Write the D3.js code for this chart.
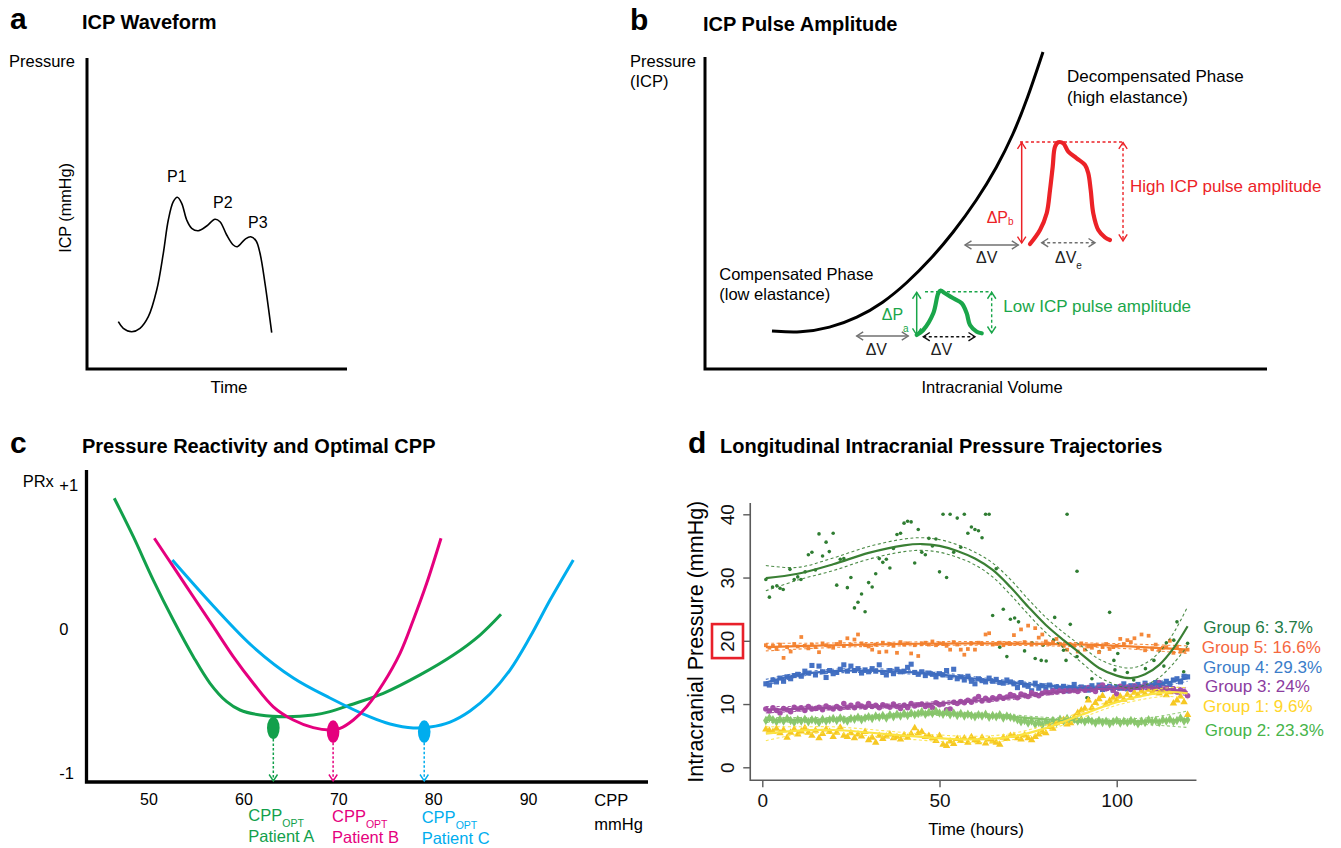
<!DOCTYPE html>
<html><head><meta charset="utf-8">
<script src="https://cdn.jsdelivr.net/npm/d3@7/dist/d3.min.js"></script>
<style>
html,body{margin:0;padding:0;background:#fff;}
svg{display:block;}
text{font-family:"Liberation Sans",Arial,Helvetica,sans-serif;}
</style></head><body>
<svg id="fig" width="1341" height="848"></svg>
<script>
// ================= DATA =================
// Panel a: ICP waveform (schematic units: time 0-100, pressure 0-100)
const waveTime = [12.04,13.96,17.19,20.38,23.58,26.81,29.35,31.27,33.19,34.73,36.42,38.35,40.27,42.81,46.04,49.23,51.15,53.73,56.27,57.81,60.77,62.96,65.00,66.54,68.46,71.04];
const waveICP  = [15.21,13.09,11.99,13.09,16.82,25.40,37.20,47.91,53.79,55.21,53.28,47.91,45.24,44.47,45.98,48.14,47.36,43.09,39.87,39.32,41.70,42.54,41.25,37.20,27.56,11.67];
const peakLabels = ["P1","P2","P3"];
const peakTime = [30.77,48.46,61.92];
const peakICP  = [60.13,51.77,45.34];

// Panel b: pressure-volume curve (schematic units 0-100)
const pvVolume   = [11.92,16.90,22.24,27.05,31.67,35.94,40.04,44.13,48.40,51.96,54.80,57.30,60.14];
const pvPressure = [12.18,11.54,13.14,16.35,21.15,27.56,34.94,43.59,54.17,64.74,75.00,86.22,101.6];
const highPulseV = [57.83,59.61,60.80,61.39,61.87,62.28,62.86,63.75,64.64,66.14,67.62,68.20,68.63,69.09,69.98,71.17,72.06];
const highPulseP = [40.06,44.55,49.90,57.37,64.84,71.25,72.66,72.34,69.65,67.53,65.38,62.72,57.37,49.90,44.55,42.21,41.35];
const lowPulseV  = [37.67,38.84,40.62,41.51,41.94,42.70,44.18,45.68,46.57,47.15,48.35,49.24];
const lowPulseP  = [10.90,12.50,17.85,24.26,25.10,24.26,22.66,21.06,17.85,14.10,11.96,11.44];

// Panel c: PRx vs CPP curves
const cppTicks = [50,60,70,80,90];
const prxTicks = [-1,0,1];
const prxTickLabels = ["-1","0","+1"];
const patients = ["Patient A","Patient B","Patient C"];
const cppOpt   = [63.1,69.4,79.0];
const prxOpt   = [-0.6875,-0.713,-0.713];
const curveA_cpp = [46.34,48.35,50.45,52.56,54.67,56.43,58.19,59.59,61.70,64.51,67.31,69.07,71.18,74.69,78.56,82.07,84.88,87.09];
const curveA_prx = [0.908,0.641,0.340,0.0625,-0.192,-0.377,-0.505,-0.5625,-0.597,-0.609,-0.597,-0.574,-0.528,-0.447,-0.319,-0.181,-0.042,0.102];
const curveB_cpp = [50.56,52.56,54.67,56.78,58.88,60.99,63.10,65.21,67.31,69.07,70.13,71.53,72.94,74.69,76.45,77.85,79.26,80.77];
const curveB_prx = [0.630,0.433,0.224,0.016,-0.192,-0.377,-0.540,-0.632,-0.685,-0.701,-0.690,-0.632,-0.540,-0.377,-0.169,0.0625,0.317,0.630];
const curveC_cpp = [52.46,56.78,60.99,65.21,69.07,73.29,75.40,77.85,79.61,81.72,83.83,85.93,88.04,90.15,92.26,93.66,94.71];
const curveC_prx = [0.479,0.160,-0.125,-0.340,-0.479,-0.611,-0.660,-0.6875,-0.681,-0.646,-0.569,-0.451,-0.285,-0.056,0.201,0.361,0.479];

// Panel d: ICP trajectories
const timeTicks = [0,50,100];
const icpTicks = [0,10,20,30,40];
const legendLabels = ["Group 6: 3.7%","Group 5: 16.6%","Group 4: 29.3%","Group 3: 24%","Group 1: 9.6%","Group 2: 23.3%"];
// Group 6 (sparse scatter) : [hour, ICP]
const g6Points = [[1,29.7],[2,26.9],[2.9,28.5],[4.1,28.7],[5,28.3],[5.9,28.1],[7.8,31.3],[9,29.7],[10,30.1],[10.9,29.7],[12.1,30.9],[13,33.6],[14,34.0],[15,31.2],[16,36.9],[17,33.4],[18,35.6],[18.9,34.1],[20,37.0],[21,28.8],[22,32.9],[23,33.0],[24,28.4],[25,30.0],[26,25.2],[27,26.1],[28,27.4],[29,24.6],[30,29.2],[31,28.5],[32,30.6],[33,33.0],[34,32.4],[35,32.9],[36,31.5],[37,34.6],[38,36.8],[39,37.0],[40,38.6],[41,38.9],[42,38.8],[43,32.3],[44,37.6],[45,34.0],[46,33.6],[47,36.2],[48,35.0],[49,36.1],[50,30.9],[51,40],[52,30.0],[53,40],[54,34.0],[55,39.4],[56,34.8],[57,40],[58,37.0],[59,38.0],[60,37.6],[61,37.4],[62,36.3],[63,40],[64,40],[65,24.0],[66,31.4],[67,19.0],[68,25.0],[69,17.5],[70,23.4],[71.2,23.6],[72.3,23.0],[74,18.4],[76.1,19.7],[77,17.2],[78.7,16.9],[79.2,19.3],[80.1,16.8],[82.2,20.1],[82.5,23.7],[85,18.5],[85.7,16.9],[86,40],[86.9,22.6],[88.8,17.5],[88.8,31.0],[91.6,11.0],[92,10.9],[93,14.0],[95.1,18.3],[98,24.5],[99.2,16.9],[99.5,15.4],[100.3,18.0],[103,15.0],[104.8,13.8],[108.1,15.6],[110.5,16.9],[113.3,16.0],[114,19.7],[116.1,20.1],[117,23.0],[118.9,15.1],[120,19.6]];
// Groups 1-5: hourly values, hours 1..120
const g5Values = [19.3,18.9,19.2,18.7,19.4,17.3,19.0,18.3,19.5,19.1,20.6,19.2,18.8,19.4,19.0,18.2,19.6,19.3,19.1,18.9,19.5,19.8,19.2,20.4,19.4,20.2,21.0,19.6,19.3,19.1,18.6,19.4,18.2,19.7,18.3,19.5,19.2,18.1,19.8,19.4,19.6,18.0,19.3,17.6,19.5,19.7,19.4,19.9,19.3,19.6,19.5,19.2,18.6,19.8,19.4,18.6,17.8,18.7,19.6,18.6,19.7,19.5,21.0,21.2,19.4,19.5,19.7,19.3,19.6,19.5,20.9,19.6,21.8,19.8,22.4,19.4,22.0,20.5,21.0,19.9,19.5,19.8,20.3,19.5,19.2,18.6,19.4,19.2,18.3,19.6,18.6,19.1,18.9,19.3,18.2,19.0,19.5,18.7,19.0,19.2,20.3,19.5,20.1,19.8,20.4,18.9,21.0,18.5,20.8,18.8,19.4,18.6,18.9,19.0,20.0,18.1,19.1,18.3,18.4,18.6];
const g4Values = [13.2,13.0,13.8,13.5,14.1,13.6,14.3,14.0,14.5,14.7,14.4,15.2,14.9,16.1,14.6,16.0,15.1,14.2,15.3,14.8,15.0,15.5,16.2,15.2,16.0,15.3,15.6,14.9,15.4,15.1,15.6,15.2,16.2,15.0,14.6,15.3,14.8,15.5,15.1,15.2,15.8,16.3,15.0,14.7,15.1,14.5,14.9,14.7,14.3,14.8,14.6,15.3,14.2,15.5,14.0,14.3,13.8,14.4,13.6,13.2,14.0,13.7,13.5,14.1,13.6,13.9,13.4,13.3,13.8,13.5,13.2,12.6,13.4,13.0,12.8,12.1,13.3,12.5,12.9,12.4,13.0,12.2,12.7,12.4,12.8,12.1,12.6,13.1,12.3,12.7,12.5,12.2,12.9,12.4,13.0,12.3,12.6,12.8,12.2,12.7,12.5,13.2,12.4,12.9,12.6,13.1,12.7,13.3,12.8,13.0,13.4,12.9,13.2,13.6,13.1,13.8,14.0,13.5,14.4,14.3];
const g3Values = [9.2,8.9,9.4,9.0,8.6,9.3,9.1,8.8,9.5,9.2,9.4,9.0,9.6,9.2,9.3,9.5,9.1,9.7,9.4,9.2,9.6,9.3,10.1,9.5,9.8,9.4,10.0,9.7,9.5,10.1,9.6,9.8,9.4,9.9,9.7,9.5,10.0,9.6,9.3,9.8,9.4,10.1,9.7,9.9,10.0,9.6,9.8,9.4,10.2,9.9,10.0,9.1,9.2,10.3,10.1,10.4,10.2,10.6,10.3,10.8,11.2,10.5,10.9,10.6,11.0,10.8,11.2,10.9,11.1,11.5,11.3,11.0,11.6,11.4,11.2,11.8,11.5,11.3,11.7,11.9,11.8,12.1,11.9,12.2,12.0,12.4,12.1,12.3,12.0,12.5,12.2,12.6,12.3,12.0,12.7,13.0,12.4,12.6,12.2,11.6,12.8,12.5,12.7,12.3,12.9,12.6,12.4,13.0,12.7,12.2,12.6,13.4,12.3,12.5,12.1,12.4,11.9,12.2,12.0,11.3];
const g2Values = [7.4,7.8,7.5,7.2,7.6,7.3,7.7,7.4,7.1,7.5,7.3,7.6,7.2,7.5,7.4,7.1,7.6,7.3,7.5,7.7,7.4,7.8,7.5,7.3,7.7,7.6,7.9,7.5,7.8,8.0,7.7,8.1,7.9,8.2,7.8,8.3,8.0,8.4,8.1,8.5,8.2,8.6,8.3,8.5,8.8,8.4,8.7,8.5,8.9,8.6,8.4,8.7,8.3,8.6,8.2,8.5,8.1,8.4,8.2,8.0,8.3,8.1,8.4,7.9,8.2,8.0,8.3,7.8,8.1,7.9,7.8,7.5,7.2,7.4,7.0,7.3,6.8,7.1,6.7,7.2,6.9,7.4,7.1,7.6,7.3,7.7,7.4,7.6,7.3,7.5,7.2,7.5,7.3,7.0,7.4,7.1,7.3,6.9,7.2,7.4,7.0,7.3,7.1,7.4,7.2,6.9,7.3,7.1,7.5,7.2,7.4,7.1,7.5,7.3,7.6,7.2,7.4,7.8,7.3,7.5];
const g1Values = [6.0,5.8,5.6,6.1,5.4,5.9,4.7,5.5,6.0,5.2,5.7,6.2,5.5,5.0,5.8,4.6,5.3,6.0,5.6,4.8,5.5,6.3,5.0,4.8,5.4,4.6,5.2,4.9,5.6,4.3,4.7,3.9,5.0,4.5,4.9,5.2,4.6,4.8,4.4,5.1,4.7,5.3,6.2,5.4,5.6,4.8,5.0,4.6,4.2,5.0,3.6,3.4,4.1,3.7,4.5,4.2,4.6,3.9,4.8,4.3,4.0,4.7,3.8,4.4,4.1,3.9,3.6,4.7,4.5,5.0,5.0,4.6,4.4,5.1,4.6,4.3,4.8,5.2,5.6,5.4,6.4,6.1,7.0,7.2,7.5,6.8,7.0,7.9,8.6,9.0,9.3,10.6,9.4,10.2,10.8,11.3,10.0,10.5,11.0,10.6,11.2,10.7,11.5,11.0,11.8,11.4,12.0,11.6,12.3,11.8,12.3,11.7,12.1,11.4,11.9,10.1,10.6,11.2,10.3,8.3];
// Fitted trajectories: knots (hour), fitted ICP, CI half-width
const fit6Time = [1,10,20,30,40,45,50,55,60,65,70,75,80,85,90,95,100,104,108,112,116,120];
const fit6ICP  = [29.9,30.6,32.1,33.9,35.1,35.3,35.0,34.2,33.0,31.2,28.5,25.4,22.5,20.1,17.9,15.7,14.5,14.1,14.7,16.2,18.8,22.3];
const fit6CI   = [2.0,1.0,1.0,1.0,1.0,1.0,1.0,1.0,1.0,1.1,1.2,1.2,1.2,1.2,1.3,1.4,1.5,1.6,1.7,2.0,2.4,3.1];
const fit5Time = [1,20,40,60,80,100,120];
const fit5ICP  = [19.0,19.3,19.5,19.6,19.5,19.2,18.6];
const fit5CI   = [0.6,0.35,0.3,0.3,0.3,0.35,0.6];
const fit4Time = [1,10,20,30,40,50,60,70,80,90,100,110,120];
const fit4ICP  = [13.4,14.6,15.2,15.3,15.1,14.7,14.0,13.4,12.9,12.6,12.6,13.0,14.1];
const fit4CI   = [0.5,0.3,0.3,0.3,0.3,0.3,0.3,0.3,0.3,0.3,0.3,0.35,0.5];
const fit3Time = [1,20,40,60,70,80,90,100,110,120];
const fit3ICP  = [9.1,9.4,9.8,10.5,11.0,11.7,12.2,12.5,12.6,11.9];
const fit3CI   = [0.5,0.3,0.3,0.3,0.3,0.3,0.3,0.3,0.35,0.6];
const fit2Time = [1,20,40,50,60,70,80,90,100,110,120];
const fit2ICP  = [7.5,7.6,8.3,8.5,8.3,8.0,7.6,7.4,7.3,7.3,7.6];
const fit2CI   = [0.4,0.3,0.3,0.3,0.3,0.3,0.3,0.3,0.35,0.6,1.3];
const fit1Time = [1,10,20,30,40,50,60,70,80,90,100,110,115,120];
const fit1ICP  = [5.3,5.8,5.9,5.5,5.0,4.6,4.4,4.8,6.2,8.3,10.3,11.6,11.9,11.7];
const fit1CI   = [1.1,0.6,0.5,0.5,0.5,0.5,0.5,0.5,0.5,0.5,0.5,0.6,0.7,0.9];

// ================= DRAWING =================
const svg = d3.select("#fig");
const defs = svg.append("defs");
function makeMarker(id, color){
  defs.append("marker").attr("id",id).attr("markerUnits","userSpaceOnUse")
    .attr("markerWidth",12).attr("markerHeight",12).attr("refX",10).attr("refY",6)
    .attr("orient","auto-start-reverse")
    .append("path").attr("d","M3.5,1.8L10,6L3.5,10.2").attr("fill","none")
    .attr("stroke",color).attr("stroke-width",1.4).attr("stroke-linejoin","miter");
}
const RED="#ec2227", GREENB="#1aa64a", GRAY="#707070";
const CA="#12a04b", CB="#e5007e", CC="#00adee";
makeMarker("mRed",RED); makeMarker("mGreen",GREENB); makeMarker("mGray",GRAY); makeMarker("mBlack","#111");
makeMarker("mA",CA); makeMarker("mB",CB); makeMarker("mC",CC);

function txt(g,x,y,s,o={}){
  const t=g.append("text").attr("x",x).attr("y",y).text(s)
    .attr("font-size",o.size||16).attr("fill",o.fill||"#000");
  if(o.bold) t.attr("font-weight","bold");
  if(o.anchor) t.attr("text-anchor",o.anchor);
  if(o.rotate) t.attr("transform",`rotate(-90,${x},${y})`);
  return t;
}
function subTxt(g,x,y,main,sub,o={}){
  const t=g.append("text").attr("x",x).attr("y",y).attr("font-size",o.size||16).attr("fill",o.fill||"#000");
  t.append("tspan").text(main);
  t.append("tspan").text(sub).attr("font-size",o.subSize||10).attr("dy",o.dy||4);
  return t;
}
function seg(g,sx,sy,a,b,color,dash,heads,w){
  const l=g.append("line").attr("x1",sx(a[0])).attr("y1",sy(a[1])).attr("x2",sx(b[0])).attr("y2",sy(b[1]))
    .attr("stroke",color).attr("stroke-width",w||1.5);
  if(dash) l.attr("stroke-dasharray",dash);
  if(heads){ l.attr("marker-start",`url(#${heads})`).attr("marker-end",`url(#${heads})`); }
  return l;
}

// ---------- Panel a ----------
const gA = svg.append("g");
const xA = d3.scaleLinear().domain([0,100]).range([87,347]);
const yA = d3.scaleLinear().domain([0,100]).range([369,58]);
gA.append("path").attr("d",`M${xA(0)},${yA(100)}V${yA(0)}H${xA(100)}`)
  .attr("fill","none").attr("stroke","#000").attr("stroke-width",3);
gA.append("path").datum(waveTime.map((t,i)=>[t,waveICP[i]]))
  .attr("d",d3.line().x(d=>xA(d[0])).y(d=>yA(d[1])).curve(d3.curveCatmullRom.alpha(0.5)))
  .attr("fill","none").attr("stroke","#000").attr("stroke-width",1.6);
peakLabels.forEach((p,i)=>txt(gA,xA(peakTime[i]),yA(peakICP[i]),p,{size:16}));
txt(gA,10,29,"a",{size:30,bold:true});
txt(gA,82,29,"ICP Waveform",{size:20,bold:true});
txt(gA,9,66.5,"Pressure",{size:16.5});
txt(gA,70.5,208,"ICP (mmHg)",{size:16.2,anchor:"middle",rotate:true});
txt(gA,229,393,"Time",{size:17,anchor:"middle"});

// ---------- Panel b ----------
const gB = svg.append("g");
const xB = d3.scaleLinear().domain([0,100]).range([705,1267]);
const yB = d3.scaleLinear().domain([0,100]).range([369,57]);
gB.append("path").attr("d",`M${xB(0)},${yB(100)}V${yB(0)}H${xB(100)}`)
  .attr("fill","none").attr("stroke","#000").attr("stroke-width",3);
const lineB = d3.line().x(d=>xB(d[0])).y(d=>yB(d[1])).curve(d3.curveCatmullRom.alpha(0.5));
gB.append("path").datum(pvVolume.map((v,i)=>[v,pvPressure[i]]))
  .attr("d",d3.line().x(d=>xB(d[0])).y(d=>yB(d[1])).curve(d3.curveBasis))
  .attr("fill","none").attr("stroke","#000").attr("stroke-width",3);
// guides and arrows
seg(gB,xB,yB,[56.05,72.76],[74.38,72.76],RED,"3,2.5",null,1.4);
seg(gB,xB,yB,[56.35,72.6],[56.35,40.38],RED,null,"mRed",1.5);
seg(gB,xB,yB,[74.38,72.6],[74.38,41.03],RED,"3,2.5","mRed",1.4);
seg(gB,xB,yB,[46.26,39.74],[55.75,39.74],GRAY,null,"mGray",1.5);
seg(gB,xB,yB,[59.91,40.48],[69.40,40.48],GRAY,"3,2.5","mGray",1.4);
seg(gB,xB,yB,[39.15,24.78],[51.01,24.78],GREENB,"3,2.5",null,1.4);
seg(gB,xB,yB,[37.67,24.6],[37.67,10.90],GREENB,null,"mGreen",1.5);
seg(gB,xB,yB,[51.01,24.6],[51.01,11.54],GREENB,"3,2.5","mGreen",1.4);
seg(gB,xB,yB,[26.99,10.58],[36.17,10.58],GRAY,null,"mGray",1.5);
seg(gB,xB,yB,[38.84,10.35],[48.04,10.35],"#111","3,2.5","mBlack",1.4);
// pulses
gB.append("path").datum(highPulseV.map((v,i)=>[v,highPulseP[i]])).attr("d",lineB)
  .attr("fill","none").attr("stroke",RED).attr("stroke-width",4.2).attr("stroke-linecap","round").attr("stroke-linejoin","round");
gB.append("path").datum(lowPulseV.map((v,i)=>[v,lowPulseP[i]])).attr("d",lineB)
  .attr("fill","none").attr("stroke",GREENB).attr("stroke-width",4.2).attr("stroke-linecap","round").attr("stroke-linejoin","round");
// texts
txt(gB,630,30,"b",{size:30,bold:true});
txt(gB,703,30.5,"ICP Pulse Amplitude",{size:20,bold:true});
txt(gB,630,66.5,"Pressure",{size:16.5});
txt(gB,630,87.3,"(ICP)",{size:16.5});
txt(gB,xB(64.41),yB(91.99),"Decompensated Phase",{size:17});
txt(gB,xB(64.41),yB(85.26),"(high elastance)",{size:17});
txt(gB,xB(2.54),yB(28.53),"Compensated Phase",{size:16.5});
txt(gB,xB(2.54),yB(22.12),"(low elastance)",{size:16.5});
txt(gB,xB(75.62),yB(56.7),"High ICP pulse amplitude",{size:17,fill:RED});
txt(gB,xB(53.08),yB(18.37),"Low ICP pulse amplitude",{size:17,fill:GREENB});
subTxt(gB,xB(50.12),yB(46.79),"ΔP","b",{size:16,fill:RED,subSize:10,dy:2});
subTxt(gB,xB(31.44),yB(15.71),"ΔP","a",{size:16,fill:GREENB,subSize:10,dy:12});
txt(gB,xB(48.22),yB(33.88),"ΔV",{size:16,fill:"#222"});
subTxt(gB,xB(62.28),yB(33.97),"ΔV","e",{size:16,fill:"#222",subSize:10,dy:6});
txt(gB,xB(28.59),yB(4.49),"ΔV",{size:16,fill:"#222"});
txt(gB,xB(40.16),yB(4.49),"ΔV",{size:16,fill:"#222"});
txt(gB,992,393,"Intracranial Volume",{size:16.5,anchor:"middle"});

// ---------- Panel c ----------
const gC = svg.append("g");
const xC = d3.scaleLinear().domain([50,90]).range([149,528.6]);
const yC = d3.scaleLinear().domain([-1,1]).range([773,485]);
gC.append("path").attr("d",`M86.5,470V${yC(-1.0625)}H648`)
  .attr("fill","none").attr("stroke","#000").attr("stroke-width",3.3);
const lineC = d3.line().x(d=>xC(d[0])).y(d=>yC(d[1])).curve(d3.curveCatmullRom.alpha(0.5));
[[curveA_cpp,curveA_prx,CA],[curveC_cpp,curveC_prx,CC],[curveB_cpp,curveB_prx,CB]].forEach(([xs,ys,col])=>{
  gC.append("path").datum(xs.map((x,i)=>[x,ys[i]])).attr("d",lineC)
    .attr("fill","none").attr("stroke",col).attr("stroke-width",3);
});
const cCols=[CA,CB,CC], cMarks=["mA","mB","mC"];
cppOpt.forEach((c,i)=>{
  const cx=xC(c), cy=yC(prxOpt[i]);
  gC.append("line").attr("x1",cx).attr("x2",cx).attr("y1",cy+11).attr("y2",yC(-1.0625)-1)
    .attr("stroke",cCols[i]).attr("stroke-width",1.5).attr("stroke-dasharray","2.5,2")
    .attr("marker-end",`url(#${cMarks[i]})`);
  gC.append("ellipse").attr("cx",cx).attr("cy",cy).attr("rx",6.3).attr("ry",11.3).attr("fill",cCols[i]);
});
cppTicks.forEach(v=>txt(gC,xC(v),804.5,String(v),{size:16,anchor:"middle"}));
prxTicks.forEach((v,i)=>txt(gC,59.3,yC(v)+5.5,prxTickLabels[i],{size:16.5}));
txt(gC,22.7,487.3,"PRx",{size:16.5});
txt(gC,594.3,806,"CPP",{size:16.5});
txt(gC,594.3,830,"mmHg",{size:16.5});
const labX=[248.3,332,421.7], labY=[821,822,823];
patients.forEach((p,i)=>{
  subTxt(gC,labX[i],labY[i],"CPP","OPT",{size:16.5,fill:cCols[i],subSize:10.5,dy:5.5});
  txt(gC,labX[i],labY[i]+21,p,{size:16.5,fill:cCols[i]});
});
txt(gC,10,453,"c",{size:30,bold:true});
txt(gC,82,453,"Pressure Reactivity and Optimal CPP",{size:20,bold:true});

// ---------- Panel d ----------
const gD = svg.append("g");
const xD = d3.scaleLinear().domain([0,120]).range([762.3,1187.6]);
const yD = d3.scaleLinear().domain([0,40]).range([767.3,514.3]);
const AX="#5a5a5a";
gD.append("path").attr("d",`M${xD(-3.4)},${yD(41.8)}V${yD(-2.05)}H${xD(122.5)}`)
  .attr("fill","none").attr("stroke",AX).attr("stroke-width",1.6);
const yAxis = gD.append("g").attr("transform",`translate(${xD(-3.4)},0)`)
  .call(d3.axisLeft(yD).tickValues(icpTicks).tickSize(7).tickSizeOuter(0));
yAxis.select(".domain").remove();
yAxis.selectAll(".tick line").attr("stroke",AX).attr("stroke-width",1.4);
yAxis.selectAll(".tick text").attr("transform","rotate(-90)").attr("x",0).attr("y",-16).attr("dy",0)
  .attr("text-anchor","middle").attr("font-size",19).attr("font-family",'"Liberation Sans",Arial,sans-serif').attr("fill","#111");
const xAxis = gD.append("g").attr("transform",`translate(0,${yD(-2.05)})`)
  .call(d3.axisBottom(xD).tickValues(timeTicks).tickSize(7).tickPadding(6.5).tickSizeOuter(0));
xAxis.select(".domain").remove();
xAxis.selectAll(".tick line").attr("stroke",AX).attr("stroke-width",1.4);
xAxis.selectAll(".tick text").attr("font-size",19).attr("font-family",'"Liberation Sans",Arial,sans-serif').attr("fill","#111");

// scatter
const hourly = v => v.map((y,i)=>[i+1,y]);
gD.append("g").selectAll("circle").data(g6Points).join("circle")
  .attr("cx",d=>xD(d[0])).attr("cy",d=>yD(d[1])).attr("r",1.8).attr("fill","#2f7d32");
const sym = (type,size)=>d3.symbol().type(type).size(size)();
const scatterSpec = [
  [g5Values, d3.symbolSquare, 14, "#f4883a"],
  [g4Values, d3.symbolSquare, 26, "#4672c4"],
  [g3Values, d3.symbolCircle, 24, "#a650a8"],
  [g2Values, d3.symbolDiamond, 26, "#8cc870"],
  [g1Values, d3.symbolTriangle, 24, "#f6c823"]
];
scatterSpec.forEach(([vals,type,size,col])=>{
  const p = sym(type,size);
  gD.append("g").selectAll("path").data(hourly(vals)).join("path")
    .attr("d",p).attr("transform",d=>`translate(${xD(d[0])},${yD(d[1])})`).attr("fill",col);
});
// fits and CI
const lineD = d3.line().x(d=>xD(d[0])).y(d=>yD(d[1])).curve(d3.curveCatmullRom.alpha(0.5));
const fitSpec = [
  [fit5Time,fit5ICP,fit5CI,"#f37f2c"],
  [fit4Time,fit4ICP,fit4CI,"#3e6cbf"],
  [fit3Time,fit3ICP,fit3CI,"#9b4a9e"],
  [fit2Time,fit2ICP,fit2CI,"#86c46a"],
  [fit1Time,fit1ICP,fit1CI,"#fbe342"],
  [fit6Time,fit6ICP,fit6CI,"#3a7f34"]
];
fitSpec.forEach(([ts,ys,ci,col])=>{
  [1,-1].forEach(s=>{
    gD.append("path").datum(ts.map((t,i)=>[t,ys[i]+s*ci[i]])).attr("d",lineD)
      .attr("fill","none").attr("stroke",col).attr("stroke-width",1.1).attr("stroke-dasharray","3,2.5").attr("opacity",0.9);
  });
  gD.append("path").datum(ts.map((t,i)=>[t,ys[i]])).attr("d",lineD)
    .attr("fill","none").attr("stroke",col).attr("stroke-width",2.2);
});
// red box around 20
gD.append("rect").attr("x",712).attr("y",yD(20)-16.7).attr("width",31).attr("height",34)
  .attr("fill","none").attr("stroke","#e8202a").attr("stroke-width",2.6);
txt(gD,703,641.7,"Intracranial Pressure (mmHg)",{size:21.5,anchor:"middle",rotate:true});
txt(gD,976,835,"Time (hours)",{size:17,anchor:"middle"});
const legCols=["#227a45","#f5673e","#3a7dc9","#8c3c9f","#ffd52a","#47b44a"];
const legY=[632.7,653.3,672.7,691.7,711.7,736];
const legX=[1203.3,1201.7,1203,1205,1203,1204.7];
legendLabels.forEach((l,i)=>txt(gD,legX[i],legY[i],l,{size:17,fill:legCols[i]}));
txt(gD,688,453,"d",{size:30,bold:true});
txt(gD,720,453,"Longitudinal Intracranial Pressure Trajectories",{size:20,bold:true});
</script></body></html>
